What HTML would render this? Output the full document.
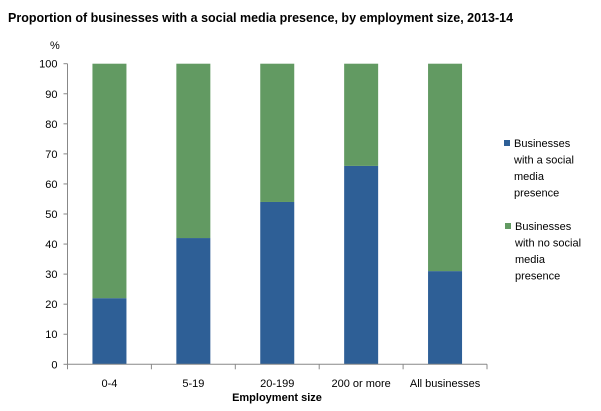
<!DOCTYPE html>
<html><head><meta charset="utf-8"><style>
body{margin:0;background:#fff;font-family:"Liberation Sans",sans-serif;}
svg text{font-family:"Liberation Sans",sans-serif;fill:#000;}
</style></head><body>
<svg width="601" height="406">
<text x="8" y="22" font-size="12.5" font-weight="bold">Proportion of businesses with a  social media presence, by employment size, 2013-14</text>
<text x="50" y="49" font-size="11">%</text>
<g id="g"></g>
<g>
<rect x="504" y="140" width="6" height="6" fill="#2e5f96"/>
<text font-size="11"><tspan x="514" y="147">Businesses</tspan><tspan x="514" y="163.5">with a social</tspan><tspan x="514" y="180">media</tspan><tspan x="514" y="196.5">presence</tspan></text>
<rect x="505" y="223" width="6" height="6" fill="#629a62"/>
<text font-size="11"><tspan x="515" y="230">Businesses</tspan><tspan x="515" y="246.5">with no social</tspan><tspan x="515" y="263">media</tspan><tspan x="515" y="279.5">presence</tspan></text>
</g>
<text x="277" y="401" font-size="11" font-weight="bold" text-anchor="middle">Employment size</text>
</svg>
<script>
const categories=["0-4","5-19","20-199","200 or more","All businesses"];
const withPresence=[22,42,54,66,31];
const noPresence=[78,58,46,34,69];
const yTicks=[0,10,20,30,40,50,60,70,80,90,100];
const NS="http://www.w3.org/2000/svg";
const g=document.getElementById('g');
const x0=67.5,x1=487,y0=364.3,y1=63.7;
const band=(x1-x0)/categories.length;
const ys=v=>y0-(v/100)*(y0-y1);
function mk(t,a,p){const e=document.createElementNS(NS,t);for(const k in a)e.setAttribute(k,a[k]);(p||g).appendChild(e);return e;}
yTicks.forEach(v=>{
 const t=mk('line',{x1:x0-4,x2:x0,y1:ys(v),y2:ys(v),stroke:'#888'});
 
 
 const l=mk('text',{x:x0-10,y:ys(v)+4,'font-size':11,'text-anchor':'end'});l.textContent=v;
 
 
});
categories.forEach((c,i)=>{
 const cx=x0+band*(i+0.5),w=34;
 const b=mk('rect',{x:cx-w/2,y:ys(withPresence[i]),width:w,height:y0-ys(withPresence[i]),fill:'#2e5f96'});
 
 
 const top=withPresence[i]+noPresence[i];
 const b2=mk('rect',{x:cx-w/2,y:ys(top),width:w,height:ys(withPresence[i])-ys(top),fill:'#629a62'});
 
 
 const l=mk('text',{x:cx,y:387,'font-size':11,'text-anchor':'middle'});l.textContent=c;
 
 
});
for(let i=0;i<=categories.length;i++){
 const t=mk('line',{x1:x0+band*i,x2:x0+band*i,y1:y0,y2:y0+5,stroke:'#888'});
 
 
}
const ya=mk('line',{x1:x0,x2:x0,y1:y1,y2:y0,stroke:'#888'});


const xa=mk('line',{x1:x0,x2:x1,y1:y0,y2:y0,stroke:'#888'});


</script>
</body></html>
